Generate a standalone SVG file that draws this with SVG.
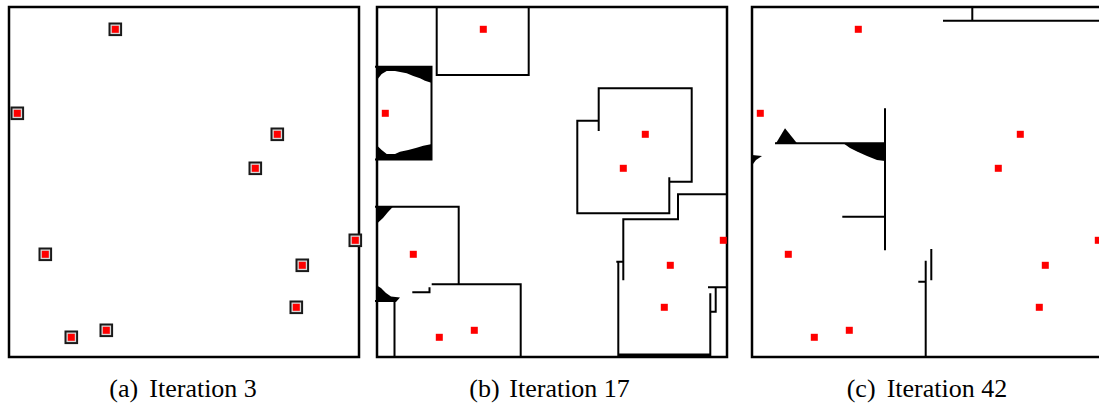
<svg xmlns="http://www.w3.org/2000/svg" xmlns:xlink="http://www.w3.org/1999/xlink" width="1099" height="406" viewBox="0 0 1099 406">
<style>
.frame{fill:none;stroke:#000;stroke-width:2.5}
.wall{fill:none;stroke:#000;stroke-width:2;stroke-linecap:square;stroke-linejoin:miter}
.blk{fill:#000;stroke:none}
.red{fill:#ff0000}
.cap{font-family:"Liberation Serif","Times New Roman",serif;font-size:26px;fill:#000}
</style>
<defs>
<g id="box"><rect x="-5.8" y="-5.8" width="11.6" height="11.6" fill="#d8d8d8" stroke="#1a1a1a" stroke-width="2"/><rect x="-3.5" y="-3.5" width="7" height="7" fill="#ff0000"/></g>
<rect id="dot" x="-3.5" y="-3.5" width="7" height="7" class="red"/>
<g id="boxes">
<use xlink:href="#box" x="106.3" y="22.3"/><use xlink:href="#box" x="8.3" y="106.3"/><use xlink:href="#box" x="268.3" y="127.3"/><use xlink:href="#box" x="246.3" y="161.3"/><use xlink:href="#box" x="346.3" y="233.3"/><use xlink:href="#box" x="36.3" y="247.3"/><use xlink:href="#box" x="293.3" y="258.3"/><use xlink:href="#box" x="287.3" y="300.3"/><use xlink:href="#box" x="97.3" y="323.3"/><use xlink:href="#box" x="62.3" y="330.3"/>
</g>
<g id="dots">
<use xlink:href="#dot" x="106.3" y="22.3"/><use xlink:href="#dot" x="8.3" y="106.3"/><use xlink:href="#dot" x="268.3" y="127.3"/><use xlink:href="#dot" x="246.3" y="161.3"/><use xlink:href="#dot" x="346.3" y="233.3"/><use xlink:href="#dot" x="36.3" y="247.3"/><use xlink:href="#dot" x="293.3" y="258.3"/><use xlink:href="#dot" x="287.3" y="300.3"/><use xlink:href="#dot" x="97.3" y="323.3"/><use xlink:href="#dot" x="62.3" y="330.3"/>
</g>
</defs>
<rect width="1099" height="406" fill="#fff"/>

<g id="panel-a">
<rect class="frame" x="9" y="7" width="350" height="350"/>
<use xlink:href="#boxes" x="9" y="7"/>
<text class="cap" x="109.3" y="397">(a)</text>
<text class="cap" x="149.3" y="397">Iteration 3</text>
</g>

<g id="panel-b">
<rect class="frame" x="377" y="7" width="350" height="350"/>
<polygon class="blk" points="376,66.7 432,66.7 432,83 425,80.7 420,78.3 413.3,76 406.7,73.3 395,71 386.7,71 381.7,74 378.3,78.3 376,81.7"/>
<polygon class="blk" points="376,160 432,160 432,144 423.3,145.7 416.7,147.7 408.3,150 400,151.7 395,154 386.7,154 381.7,150 378.3,146.7 376,145"/>
<polygon class="blk" points="376,206.7 393,206.7 388,212 383,218 376,224.5"/>
<polygon class="blk" points="376,285 381,288 386,293 391,296.5 400,297.5 396,302 376,302"/>
<path class="wall" d="M436.7,7 V75 H528.7 V7"/>
<path class="wall" d="M376,66.7 H431.5 V159.5 H376"/>
<path class="wall" d="M598.7,130 V88.3 H691.7 V181.7 H669.3 V213.3 H577.3 V120.7 H598.7 M669.3,178.3 V182"/>
<path class="wall" d="M727,194.3 H678 V219.3 H623.3 V279.3 M617.3,261.7 H623.3 M618.3,261.7 V357 M710.3,294.3 V357 M709,287.3 H727 M715.7,287.3 V311.7 H711"/>
<path d="M618,355.3 H711" stroke="#000" stroke-width="3.5" fill="none"/>
<path class="wall" d="M376,206.7 H458.7 V284.3 M432.7,284.3 H520.7 V357 M413.3,292.3 H429.5 V288.3 M376,301 H395 M394.5,301 V357"/>
<use xlink:href="#dots" x="377" y="7"/>
<text class="cap" x="469.3" y="397">(b)</text>
<text class="cap" x="509.3" y="397">Iteration 17</text>
</g>

<g id="panel-c">
<rect class="frame" x="752" y="7" width="350" height="350"/>
<polygon class="blk" points="776,143.3 785,128.3 797,143.3"/>
<polygon class="blk" points="843.3,143.3 885,143.3 885,161 877,160 867,156 857,151.5 850,148"/>
<polygon class="blk" points="752,155 762,156 756,160 753,164"/>
<path class="wall" d="M972.3,7 V20.7 M944,20.7 H1100 M885,109.3 V249.3 M776,143.3 H885 M843.3,216.7 H885 M925.7,261.7 V357 M919.3,281.7 H925.7 M931.3,250 V279.3"/>
<use xlink:href="#dots" x="752" y="7"/>
<text class="cap" x="846.7" y="397">(c)</text>
<text class="cap" x="886.7" y="397">Iteration 42</text>
</g>
</svg>
